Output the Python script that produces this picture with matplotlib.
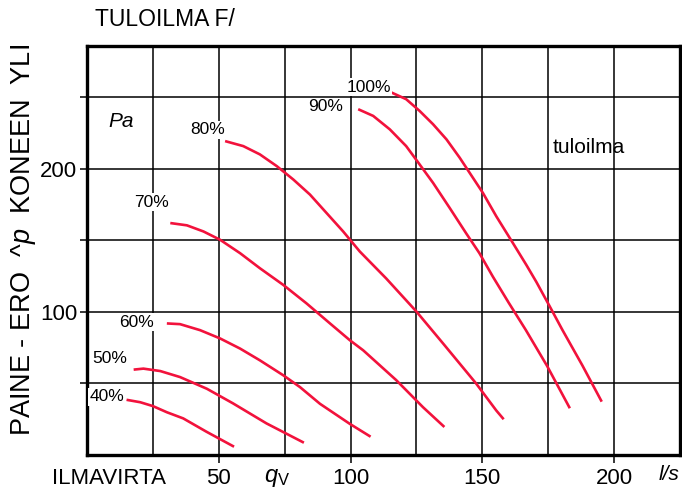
import matplotlib
matplotlib.use("Agg")
import matplotlib.pyplot as plt

plt.rcParams['font.family'] = ['Liberation Sans', 'DejaVu Sans']
plt.rcParams['mathtext.fontset'] = 'custom'
plt.rcParams['mathtext.it'] = 'Liberation Sans:italic'
plt.rcParams['mathtext.rm'] = 'Liberation Sans'

# ---- data ----
labels = ["40%", "50%", "60%", "70%", "80%", "90%", "100%"]
x40 = [15.0, 20.2, 25.0, 30.3, 36.5, 45.3, 55.8]
y40 = [38.6, 36.9, 34.2, 29.9, 25.6, 16.3, 5.8]
x50 = [17.7, 21.4, 27.8, 35.3, 45.5, 55.4, 68.1, 82.3]
y50 = [59.7, 60.4, 58.7, 54.5, 46.3, 36.1, 22.1, 8.6]
x60 = [30.3, 35.3, 42.9, 50.5, 58.1, 65.6, 74.5, 80.8, 88.4, 99.7, 107.6]
y60 = [92.0, 91.5, 87.3, 81.5, 74.4, 66.2, 55.7, 47.5, 35.8, 21.8, 12.8]
x70 = [31.6, 37.9, 44.2, 50.5, 58.1, 65.6, 74.5, 83.3, 92.2, 99.7, 104.8,
       117.3, 127.5, 135.6]
y70 = [162.2, 160.6, 156.3, 150.5, 141.1, 130.6, 118.9, 106.0, 92.0, 80.3,
       73.2, 52.4, 33.4, 19.6]
x80 = [52.4, 59.3, 65.6, 72.0, 78.3, 84.6, 90.9, 97.2, 103.5, 113.5, 125.0,
       135.1, 147.6, 155.3, 158.1]
y80 = [219.5, 216.0, 210.2, 202.0, 192.6, 182.1, 169.2, 156.3, 142.3, 123.5,
       100.3, 78.0, 50.1, 31.1, 25.0]
x90 = [102.9, 108.6, 114.9, 121.1, 126.2, 131.3, 137.6, 143.8, 148.9, 154.0,
       160.0, 166.5, 174.5, 183.2]
y90 = [241.8, 237.1, 227.7, 216.0, 203.2, 190.3, 172.8, 155.2, 141.1, 124.7,
       106.5, 87.4, 62.5, 32.7]
x100 = [114.9, 121.1, 126.2, 131.3, 136.4, 141.4, 150.2, 155.3, 161.6, 166.7,
        170.5, 175.4, 180.4, 188.0, 195.3]
y100 = [254.0, 248.8, 240.6, 231.3, 220.7, 207.9, 183.3, 166.9, 148.2, 132.9,
        121.0, 104.5, 87.4, 62.5, 37.3]
series_x = [x40, x50, x60, x70, x80, x90, x100]
series_y = [y40, y50, y60, y70, y80, y90, y100]

x_ticks = [50, 100, 150, 200]
x_ticklabels = ["50", "100", "150", "200"]
y_ticks = [50, 100, 150, 200, 250]
y_ticklabels = ["", "100", "", "200", ""]

# label anchor positions (data units)
label_pos = [(7.6, 40.6), (8.7, 67.8), (18.9, 93.0), (24.6, 176.9),
             (45.8, 227.3), (90.5, 243.4), (106.8, 257.3)]

W, H = 682, 493
fig = plt.figure(figsize=(W / 100, H / 100), dpi=100)
ax = fig.add_axes([87 / W, 38 / H, 593 / W, 409 / H])
ax.set_xlim(0, 225)
ax.set_ylim(0, 286)

red = '#F2123C'
for xs, ys in zip(series_x, series_y):
    ax.plot(xs, ys, color=red, lw=1.9, solid_capstyle='butt',
            solid_joinstyle='round', zorder=3)

ax.set_xticks(x_ticks)
ax.set_xticklabels(x_ticklabels)
ax.set_xticks([25, 75, 125, 175], minor=True)
ax.set_yticks(y_ticks)
ax.set_yticklabels(y_ticklabels)
ax.grid(True, which='both', color='black', lw=1.1, zorder=1)
ax.tick_params(axis='x', which='major', direction='out', length=6, width=1.1,
               labelsize=16, pad=3)
ax.tick_params(axis='x', which='minor', length=0)
ax.tick_params(axis='y', which='major', direction='out', length=5, width=1.1,
               labelsize=16, pad=2)
for s in ax.spines.values():
    s.set_linewidth(2.4)
    s.set_zorder(4)

for lab, (lx, ly) in zip(labels, label_pos):
    ax.text(lx, ly, lab, fontsize=12.5, ha='center', va='center', zorder=5,
            bbox=dict(facecolor='white', edgecolor='none', pad=1.0))

ax.text(12.9, 232.9, "Pa", fontsize=15, style='italic', ha='center', va='center')
ax.text(190.5, 214.7, "tuloilma", fontsize=15, ha='center', va='center')


def fpos(px, py):
    return px / W, 1 - py / H


fig.text(*fpos(95, 20), "TULOILMA F/", fontsize=16.5, ha='left', va='center')
fig.text(*fpos(24, 240), r"PAINE - ERO  ^$\it{p}$  KONEEN  YLI", fontsize=19.5,
         rotation=90, ha='center', va='center')
fig.text(*fpos(109, 478), "ILMAVIRTA", fontsize=16, ha='center', va='center')
fig.text(*fpos(277, 478), r"$q_{\rm V}$", fontsize=17, ha='center', va='center')
fig.text(*fpos(669, 474), "l/s", fontsize=15, style='italic', ha='center', va='center')

fig.savefig("out.png", dpi=100)
